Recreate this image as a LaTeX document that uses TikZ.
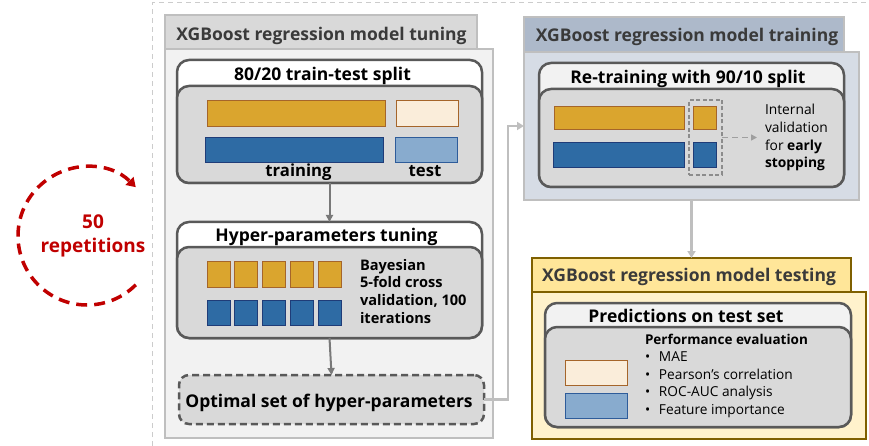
\documentclass[tikz,border=0pt]{standalone}
\usepackage{fontspec}
\setmainfont{Open Sans}
\usetikzlibrary{arrows.meta}
\definecolor{tabgray}{HTML}{D9D9D9}
\definecolor{bodygray}{HTML}{F2F2F2}
\definecolor{framegray}{HTML}{BFBFBF}
\definecolor{darkline}{HTML}{595959}
\definecolor{innergray}{HTML}{D9D9D9}
\definecolor{tabblue}{HTML}{ADB9CA}
\definecolor{bodyblue}{HTML}{D6DCE5}
\definecolor{tabgold}{HTML}{FFE699}
\definecolor{bodygold}{HTML}{FFF2CC}
\definecolor{goldline}{HTML}{7F6000}
\definecolor{barorange}{HTML}{DAA52E}
\definecolor{barorangeline}{HTML}{A5652A}
\definecolor{barcream}{HTML}{FAEDDA}
\definecolor{barblue}{HTML}{2E6BA4}
\definecolor{barblueline}{HTML}{1F3C78}
\definecolor{barlblue}{HTML}{88ABCE}
\definecolor{barlblueline}{HTML}{2E5C9A}
\definecolor{repred}{HTML}{C00000}
\definecolor{tabtext}{HTML}{3A3A3A}
\begin{document}
\begin{tikzpicture}[x=1pt,y=-1pt,
  every node/.style={inner sep=0pt,outer sep=0pt},
  rbox/.style={rectangle,draw=framegray,line width=2.5pt},
  panel/.style={rectangle,rounded corners=12pt,draw=darkline,line width=2.5pt},
  tabtitle/.style={anchor=base,text=tabtext,font=\fontsize{17.5}{20}\selectfont\bfseries},
  boxtitle/.style={anchor=base,text=black,font=\fontsize{17.5}{20}\selectfont\bfseries},
  lbltitle/.style={anchor=base,text=black,font=\fontsize{16.7}{20}\selectfont\bfseries},
  obar/.style={rectangle,fill=barorange,draw=barorangeline,line width=0.8pt},
  cbar/.style={rectangle,fill=barcream,draw=barorangeline,line width=0.8pt},
  bbar/.style={rectangle,fill=barblue,draw=barblueline,line width=0.8pt},
  lbar/.style={rectangle,fill=barlblue,draw=barlblueline,line width=0.8pt},
  darrow/.style={draw=gray!95!black,line width=2pt,-{Triangle[length=7pt,width=7pt]}},
  larrow/.style={draw=framegray,line width=2.5pt,-{Triangle[length=7pt,width=8pt]}},
  bline/.style={anchor=base west,font=\fontsize{14.6}{16}\selectfont\bfseries},
  rline/.style={anchor=base west,font=\fontsize{13.8}{16}\selectfont},
  pline/.style={anchor=base west,font=\fontsize{13.7}{16}\selectfont}
]
\useasboundingbox (0,0) rectangle (869,446);
% outer dashed frame
\coordinate (fa) at (152,446);
\coordinate (fb) at (152,3);
\coordinate (fc) at (869,3);
\draw[draw=framegray!80,line width=1pt,dash pattern=on 5pt off 4pt] (fa) -- (fb) -- (fc);

% repetitions
\coordinate (repc) at (87,236);
\draw[repred,line width=3.5pt,dash pattern=on 11pt off 7pt,-{Triangle[length=9pt,width=11pt]}]
  (repc) ++(45:69) arc[start angle=45,end angle=315,radius=69];
\node[anchor=base,text=repred,font=\fontsize{19}{24}\selectfont\bfseries] (rep50) at (93,228.3) {50};
\node[anchor=base,text=repred,font=\fontsize{19}{24}\selectfont\bfseries] (reptext) at (93,252.7) {repetitions};

% ---------------- tuning panel
\node[rbox,fill=bodygray,minimum width=328pt,minimum height=389pt] (tunebody) at (329,243.5) {};
\node[rbox,fill=tabgray,minimum width=312pt,minimum height=34pt] (tunetab) at (321,32) {};
\node[tabtitle] (tunetitle) at (321.5,40.7) {XGBoost regression model tuning};

% split box
\node[panel,fill=white,minimum width=305pt,minimum height=123pt] (split) at (329.5,121.5) {};
\node[panel,fill=innergray,minimum width=305pt,minimum height=97pt] (splitin) at (329.5,134.5) {};
\node[boxtitle] (splittitle) at (322.5,81) {80/20 train-test split};
\node[obar,minimum width=178pt,minimum height=26pt] (tro) at (296,113) {};
\node[cbar,minimum width=62pt,minimum height=26pt] (teo) at (427,113) {};
\node[bbar,minimum width=178pt,minimum height=25pt] (trb) at (294,149.5) {};
\node[lbar,minimum width=62pt,minimum height=25pt] (teb) at (426,149.5) {};
\node[lbltitle] (trlabel) at (298.5,176.7) {training};
\node[lbltitle] (telabel) at (425,176.7) {test};

% hyper box
\node[panel,fill=white,minimum width=305pt,minimum height=116pt] (hyper) at (329.5,280) {};
\node[panel,fill=innergray,minimum width=305pt,minimum height=91pt] (hyperin) at (329.5,292.5) {};
\node[boxtitle] (hypertitle) at (326.5,241) {Hyper-parameters tuning};
\foreach \i in {0,...,4}{
  \node[obar,minimum width=23pt,minimum height=26pt] (ho\i) at (218.5+27.75*\i,274) {};
  \node[bbar,minimum width=23pt,minimum height=25pt] (hb\i) at (218.5+27.75*\i,312.5) {};
}
\node[bline] (bay1) at (360,270) {Bayesian};
\node[bline] (bay2) at (360,287.6) {5-fold cross};
\node[bline] (bay3) at (360,305.3) {validation, 100};
\node[bline] (bay4) at (360,323) {iterations};

% optimal box
\node[rectangle,rounded corners=10pt,draw=darkline,fill=innergray,line width=2.5pt,dash pattern=on 7pt off 4pt,minimum width=305pt,minimum height=49pt] (opt) at (331.5,399.5) {};
\node[boxtitle] (opttitle) at (329,407) {Optimal set of hyper-parameters};

\draw[darrow] (split.south) -- (hyper.north);
\draw[darrow] (hyper.south) -- (opt.north);

% ---------------- training panel
\node[rbox,fill=bodyblue,minimum width=335pt,minimum height=148pt] (trainbody) at (691.5,126) {};
\node[rbox,fill=tabblue,minimum width=320pt,minimum height=35pt] (traintab) at (684,34.5) {};
\node[tabtitle] (traintitle) at (687,41.7) {XGBoost regression model training};

\node[panel,fill=bodygray,minimum width=305pt,minimum height=124pt] (retrain) at (691.5,125) {};
\node[panel,fill=innergray,minimum width=305pt,minimum height=98pt] (retrainin) at (691.5,138) {};
\node[boxtitle] (retraintitle) at (688,83.3) {Re-training with 90/10 split};
\node[obar,minimum width=130pt,minimum height=23pt] (rto) at (619,117.5) {};
\node[bbar,minimum width=131pt,minimum height=25pt] (rtb) at (618.5,154.5) {};
\node[obar,minimum width=23pt,minimum height=23pt] (rvo) at (704.5,117.5) {};
\node[bbar,minimum width=23pt,minimum height=25pt] (rvb) at (704.5,154.5) {};
\node[rectangle,draw=gray!90,line width=1.3pt,dash pattern=on 4pt off 2.5pt,minimum width=33pt,minimum height=75pt] (valbox) at (705.5,137.5) {};
\coordinate (valend) at (757,137.5);
\draw[draw=gray!75,line width=1.5pt,dash pattern=on 6pt off 4pt,-{Triangle[length=6pt,width=6pt]}] (valbox.east) -- (valend);
\node[rline] (val1) at (765,115) {Internal};
\node[rline] (val2) at (765,133) {validation};
\node[rline] (val3) at (765,150.5) {for \textbf{early}};
\node[rline] (val4) at (765,168) {\textbf{stopping}};

% connector opt -> training
\coordinate (c1) at (508,399.5);
\coordinate (c2) at (508,126);
\draw[larrow] (opt.east) -- (c1) -- (c2) -- (trainbody.west);

% ---------------- testing panel
\node[rectangle,draw=goldline,line width=2.5pt,fill=bodygold,minimum width=334pt,minimum height=147pt] (testbody) at (699,365.5) {};
\node[rectangle,draw=goldline,line width=2.5pt,fill=tabgold,minimum width=319pt,minimum height=34pt] (testtab) at (691.5,275) {};
\node[tabtitle] (testtitle) at (689,281.7) {XGBoost regression model testing};

\draw[larrow] (trainbody.south) -- (testtab.north);

\node[panel,fill=bodygray,minimum width=306pt,minimum height=124pt] (pred) at (698,365) {};
\node[panel,fill=innergray,minimum width=306pt,minimum height=100pt] (predin) at (698,377) {};
\node[boxtitle] (predtitle) at (686,322.7) {Predictions on test set};
\node[cbar,minimum width=62pt,minimum height=25pt] (pc) at (596,372.5) {};
\node[lbar,minimum width=62pt,minimum height=25pt] (pb) at (596,405.5) {};
\node[anchor=base west,font=\fontsize{13.5}{16}\selectfont\bfseries] (perftitle) at (645,344) {Performance evaluation};
\node[pline] (perf1) at (645,361.7) {\makebox[14pt][l]{•}MAE};
\node[pline] (perf2) at (645,379.3) {\makebox[14pt][l]{•}Pearson’s correlation};
\node[pline] (perf3) at (645,396.7) {\makebox[14pt][l]{•}ROC-AUC analysis};
\node[pline] (perf4) at (645,414.3) {\makebox[14pt][l]{•}Feature importance};
\end{tikzpicture}
\end{document}
